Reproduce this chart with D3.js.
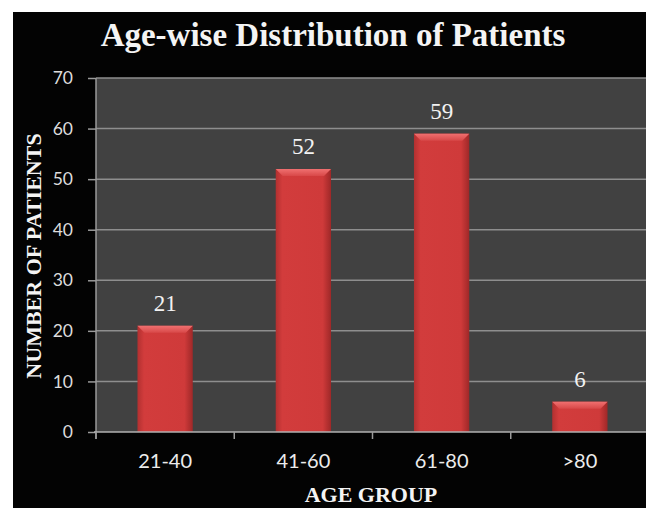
<!DOCTYPE html>
<html>
<head>
<meta charset="utf-8">
<script src="https://cdn.jsdelivr.net/npm/d3@7"></script>
<style>
  body { margin: 0; background: #fff; }
</style>
</head>
<body>
<div id="chart"></div>
<script>
var categories = ["21-40", "41-60", "61-80", ">80"];
var patients = [21, 52, 59, 6];
var yTickValues = [0, 10, 20, 30, 40, 50, 60, 70];

var W = 646, H = 508;
var plot = {left: 96, top: 78, right: 649, bottom: 432};

var svg = d3.select("#chart").append("svg")
  .attr("width", W)
  .attr("height", H);

// gradients for the bevelled bars
var defs = svg.append("defs");
var bodyGrad = defs.append("linearGradient").attr("id", "barBody");
bodyGrad.append("stop").attr("offset", "0%").attr("stop-color", "#b23030");
bodyGrad.append("stop").attr("offset", "12%").attr("stop-color", "#d23c3c");
bodyGrad.append("stop").attr("offset", "85%").attr("stop-color", "#cf3a3a");
bodyGrad.append("stop").attr("offset", "100%").attr("stop-color", "#9e2828");
var topGrad = defs.append("linearGradient").attr("id", "barTop")
  .attr("x1", 0).attr("y1", 0).attr("x2", 0).attr("y2", 1);
topGrad.append("stop").attr("offset", "0%").attr("stop-color", "#f07070");
topGrad.append("stop").attr("offset", "100%").attr("stop-color", "#d84848");

// black chart frame
svg.append("rect")
  .attr("x", 13).attr("y", 12)
  .attr("width", W - 13).attr("height", H - 12)
  .attr("fill", "#030303");

var x = d3.scaleBand()
  .domain(categories)
  .range([plot.left, plot.right])
  .paddingInner(0.6)
  .paddingOuter(0.3);

var y = d3.scaleLinear()
  .domain([0, 70])
  .range([plot.bottom, plot.top]);

// plot area
svg.append("rect")
  .attr("x", plot.left).attr("y", plot.top)
  .attr("width", plot.right - plot.left)
  .attr("height", plot.bottom - plot.top)
  .attr("fill", "#414141");

// gridlines
svg.append("g").selectAll("line")
  .data(yTickValues.filter(function(d) { return d > 0; }))
  .enter().append("line")
  .attr("x1", plot.left).attr("x2", plot.right)
  .attr("y1", function(d) { return y(d); })
  .attr("y2", function(d) { return y(d); })
  .attr("stroke", "#8e8e8e")
  .attr("stroke-width", 1.5);

// bars
var bars = svg.append("g").selectAll("g")
  .data(patients)
  .enter().append("g");

bars.append("rect")
  .attr("x", function(d, i) { return x(categories[i]); })
  .attr("y", function(d) { return y(d); })
  .attr("width", x.bandwidth())
  .attr("height", function(d) { return y(0) - y(d); })
  .attr("fill", "url(#barBody)");

// top bevel
var bev = 7;
bars.append("path")
  .attr("d", function(d, i) {
    var x0 = x(categories[i]), x1 = x0 + x.bandwidth(), yt = y(d);
    return "M" + x0 + "," + yt + "L" + x1 + "," + yt +
      "L" + (x1 - bev) + "," + (yt + bev) + "L" + (x0 + bev) + "," + (yt + bev) + "Z";
  })
  .attr("fill", "url(#barTop)");

// value labels
bars.append("text")
  .attr("x", function(d, i) { return x(categories[i]) + x.bandwidth() / 2; })
  .attr("y", function(d) { return y(d) - 15; })
  .attr("text-anchor", "middle")
  .attr("fill", "#f2f2f2")
  .style("font-family", "'Liberation Serif', 'Times New Roman', serif")
  .style("font-size", "23px")
  .text(function(d) { return d; });

// y axis
var yAxis = svg.append("g")
  .attr("transform", "translate(" + plot.left + ",0)")
  .call(d3.axisLeft(y).tickValues(yTickValues).tickSize(8).tickPadding(15));
yAxis.select(".domain")
  .attr("d", "M0," + plot.top + "V" + (plot.bottom + 7))
  .attr("stroke", "#9a9a9a").attr("stroke-width", 1.5);
yAxis.selectAll(".tick line").attr("stroke", "#9a9a9a").attr("stroke-width", 1.5);
yAxis.selectAll(".tick text")
  .attr("fill", "#dcdcdc")
  .style("font-family", "Lato, sans-serif")
  .style("font-size", "17.5px");

// x axis
var xAxis = svg.append("g")
  .attr("transform", "translate(0," + plot.bottom + ")")
  .call(d3.axisBottom(x).tickSize(0).tickPadding(22));
xAxis.select(".domain")
  .attr("d", "M" + (plot.left - 2) + ",0H" + plot.right)
  .attr("stroke", "#b0b0b0").attr("stroke-width", 1.5);
xAxis.selectAll(".tick text")
  .attr("fill", "#ececec")
  .style("font-family", "Lato, sans-serif")
  .style("font-size", "20px");
// tick marks sit on the category boundaries
xAxis.append("g").selectAll("line")
  .data(categories)
  .enter().append("line")
  .attr("x1", function(d) { return x(d) - x.step() * x.paddingOuter(); })
  .attr("x2", function(d) { return x(d) - x.step() * x.paddingOuter(); })
  .attr("y1", 0).attr("y2", 7)
  .attr("stroke", "#9a9a9a").attr("stroke-width", 1.5);

// titles
svg.append("text")
  .attr("x", 333).attr("y", 46)
  .attr("text-anchor", "middle")
  .attr("fill", "#f4f4f4")
  .style("font-family", "'Liberation Serif', 'Times New Roman', serif")
  .style("font-weight", "bold")
  .style("font-size", "33px")
  .text("Age-wise Distribution of Patients");

svg.append("text")
  .attr("x", 371).attr("y", 502)
  .attr("text-anchor", "middle")
  .attr("fill", "#f4f4f4")
  .style("font-family", "'Liberation Serif', 'Times New Roman', serif")
  .style("font-weight", "bold")
  .style("font-size", "22px")
  .text("AGE GROUP");

svg.append("text")
  .attr("transform", "translate(41,256) rotate(-90)")
  .attr("text-anchor", "middle")
  .attr("fill", "#f4f4f4")
  .style("font-family", "'Liberation Serif', 'Times New Roman', serif")
  .style("font-weight", "bold")
  .style("font-size", "22px")
  .text("NUMBER OF PATIENTS");
</script>
</body>
</html>
